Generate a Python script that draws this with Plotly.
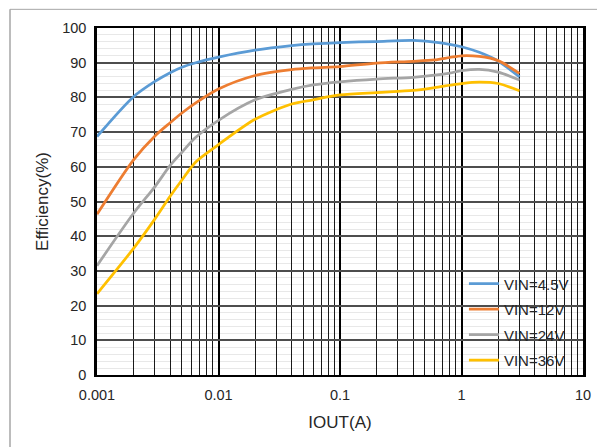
import plotly.graph_objects as go

iout = [0.001, 0.002, 0.003, 0.004, 0.005, 0.0065, 0.01, 0.02, 0.04, 0.06,
        0.1, 0.2, 0.4, 0.6, 0.8, 1.0, 1.4, 2.0, 3.0]
eff_4v5 = [68.7, 80.2, 84.6, 87.1, 88.7, 90.0, 91.6, 93.6, 94.9, 95.4,
           95.8, 96.1, 96.4, 95.9, 95.3, 94.6, 93.0, 90.5, 85.9]
eff_12v = [46.3, 62.0, 68.9, 72.7, 75.5, 78.4, 82.4, 86.3, 88.0, 88.5,
           88.9, 89.9, 90.4, 90.8, 91.5, 92.0, 91.8, 90.6, 86.9]
eff_24v = [31.5, 46.6, 54.3, 60.4, 64.2, 68.5, 73.4, 79.3, 82.3, 83.6,
           84.5, 85.3, 85.8, 86.4, 87.0, 87.7, 88.1, 87.3, 85.0]
eff_36v = [23.4, 36.5, 45.0, 51.5, 56.2, 61.4, 66.4, 73.7, 78.1, 79.3,
           80.7, 81.4, 82.0, 82.8, 83.5, 84.0, 84.4, 84.0, 81.9]

series_names = ["VIN=4.5V", "VIN=12V", "VIN=24V", "VIN=36V"]
series_colors = ["#5B9BD5", "#ED7D31", "#A5A5A5", "#FFC000"]
series_values = [eff_4v5, eff_12v, eff_24v, eff_36v]

x_major_ticks = [0.001, 0.01, 0.1, 1, 10]
x_tick_labels = ["0.001", "0.01", "0.1", "1", "10"]
x_minor_ticks = [m * d for d in [0.001, 0.01, 0.1, 1] for m in range(2, 10)]
y_ticks = list(range(0, 101, 10))

fig = go.Figure()
for name, color, vals in zip(series_names, series_colors, series_values):
    fig.add_trace(go.Scatter(
        x=iout, y=vals, mode="lines", name=name, legendgroup=name,
        line=dict(color=color, width=2.75, shape="spline", smoothing=0.8),
    ))

font_family = "Liberation Sans, Arial, sans-serif"
text_color = "#262626"

# page body has an 8px margin: figure is sized / offset to compensate
fig.update_layout(
    width=597, height=439,
    margin=dict(l=89, r=22, t=14, b=72),
    paper_bgcolor="white", plot_bgcolor="white",
    font=dict(family=font_family, color=text_color, size=14.5),
    showlegend=True,
    legend=dict(
        x=0.755, y=0.31, xanchor="left", yanchor="top",
        bgcolor="rgba(0,0,0,0)", borderwidth=0,
        font=dict(size=15, family=font_family, color=text_color),
        tracegroupgap=3,
    ),
    xaxis=dict(
        type="log", range=[-3, 1],
        tickmode="array", tickvals=x_major_ticks, ticktext=x_tick_labels,
        showgrid=True, gridcolor="#000000", gridwidth=2,
        minor=dict(tickmode="array", tickvals=x_minor_ticks, showgrid=True,
                   gridcolor="#1a1a1a", gridwidth=1, griddash="solid"),
        showline=True, linecolor="#000000", linewidth=2, mirror=True,
        ticks="outside", ticklen=6, tickcolor="rgba(0,0,0,0)",
        zeroline=False,
        title=dict(text="IOUT(A)", font=dict(size=17), standoff=14),
        tickfont=dict(size=14.5),
    ),
    yaxis=dict(
        range=[0, 100],
        tickmode="array", tickvals=y_ticks,
        showgrid=True, gridcolor="#4d4d4d", gridwidth=2,
        minor=dict(dtick=2, showgrid=True, gridcolor="rgba(0,0,0,0.09)",
                   gridwidth=1, griddash="solid"),
        showline=True, linecolor="#000000", linewidth=2.5, mirror=True,
        ticks="outside", ticklen=5, tickcolor="rgba(0,0,0,0)",
        zeroline=False,
        title=dict(text="Efficiency(%)", font=dict(size=17), standoff=10),
        tickfont=dict(size=14.5),
    ),
    shapes=[
        dict(type="line", xref="paper", yref="paper", x0=-0.179, x1=1.1,
             y0=1.0538, y1=1.0538, line=dict(color="#a6a6a6", width=1)),
        dict(type="line", xref="paper", yref="paper", x0=-0.179, x1=-0.179,
             y0=1.0538, y1=-0.25, line=dict(color="#a6a6a6", width=1.5)),
    ],
)

fig.write_html("out.html")
